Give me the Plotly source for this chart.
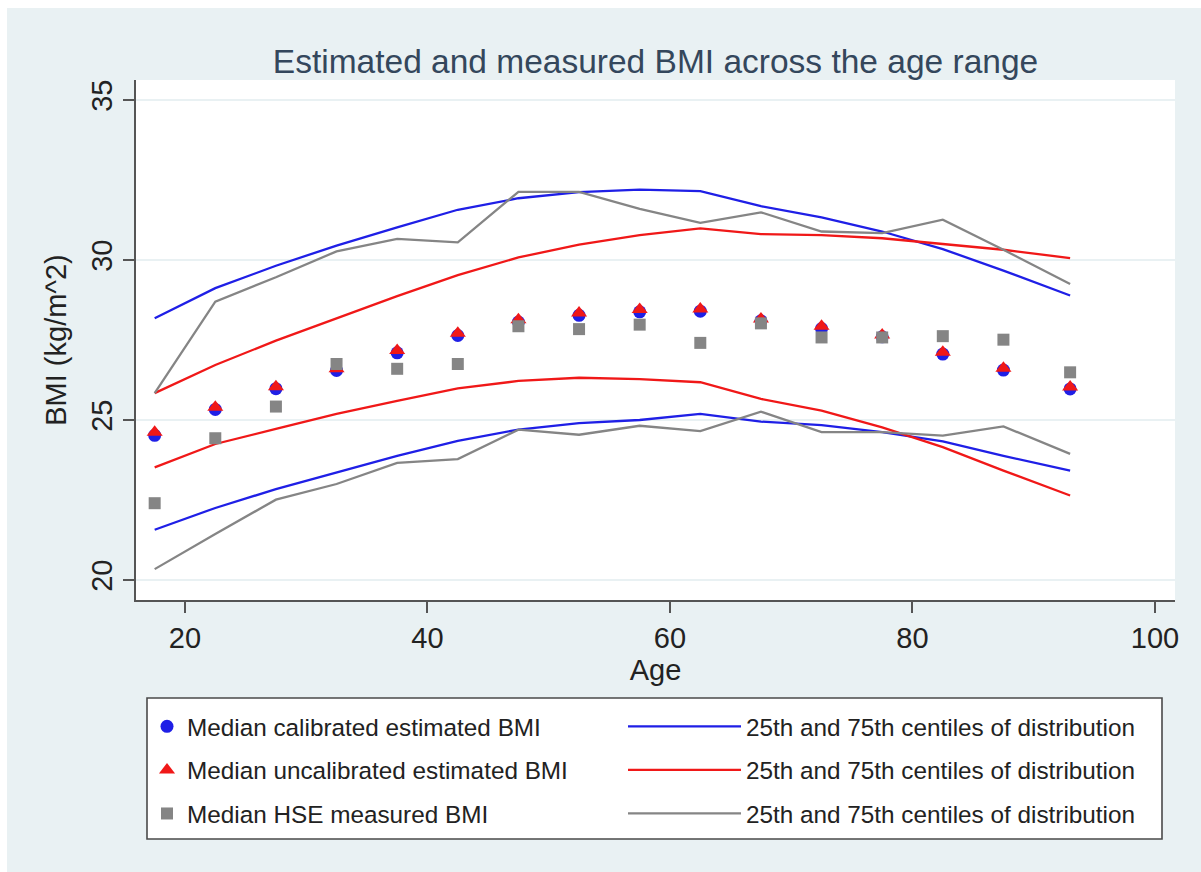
import plotly.graph_objects as go

# ---------------- data ----------------
ages = [17.5, 22.5, 27.5, 32.5, 37.5, 42.5, 47.5, 52.5, 57.5, 62.5, 67.5, 72.5, 77.5, 82.5, 87.5, 93]

cal_median = [24.52, 25.33, 25.98, 26.55, 27.1, 27.64, 28.06, 28.27, 28.38, 28.4, 28.1, 27.86, 27.6, 27.06, 26.56, 25.97]
uncal_median = [24.62, 25.4, 26.04, 26.6, 27.17, 27.71, 28.13, 28.34, 28.45, 28.47, 28.16, 27.93, 27.66, 27.12, 26.62, 26.03]
hse_median = [22.4, 24.43, 25.42, 26.75, 26.6, 26.75, 27.93, 27.84, 27.98, 27.41, 28.02, 27.58, 27.58, 27.62, 27.51, 26.49]

cal_p75 = [28.18, 29.12, 29.82, 30.45, 31.02, 31.57, 31.93, 32.12, 32.2, 32.15, 31.68, 31.33, 30.89, 30.34, 29.67, 28.89]
cal_p25 = [21.57, 22.25, 22.84, 23.37, 23.88, 24.35, 24.7, 24.9, 25.0, 25.19, 24.95, 24.84, 24.62, 24.33, 23.88, 23.42]
uncal_p75 = [25.84, 26.72, 27.48, 28.18, 28.87, 29.53, 30.08, 30.48, 30.78, 30.99, 30.81, 30.78, 30.68, 30.5, 30.32, 30.06]
uncal_p25 = [23.52, 24.25, 24.72, 25.19, 25.6, 25.99, 26.22, 26.32, 26.28, 26.18, 25.66, 25.29, 24.77, 24.15, 23.42, 22.64]
hse_p75 = [25.84, 28.7, 29.46, 30.27, 30.66, 30.55, 32.13, 32.13, 31.6, 31.16, 31.49, 30.89, 30.84, 31.26, 30.32, 29.25]
hse_p25 = [20.34, 21.44, 22.51, 23.0, 23.66, 23.78, 24.7, 24.54, 24.82, 24.65, 25.26, 24.62, 24.62, 24.51, 24.8, 23.94]

x_ticks = [20, 40, 60, 80, 100]
y_ticks = [20, 25, 30, 35]

marker_labels = ["Median calibrated estimated BMI",
                 "Median uncalibrated estimated BMI",
                 "Median HSE measured BMI"]
centile_label = "25th and 75th centiles of distribution"

# ---------------- styling ----------------
BLUE = "#1f1fe6"
RED = "#f01818"
GRAY = "#858585"
BG = "#e9f1f3"
FONT = "Liberation Sans"

W, H = 1201, 872
L, R, T, B = 136, 26, 80, 272
PW, PH = W - L - R, H - T - B


def px_x(p):
    return (p - L) / PW


def px_y(p):
    return (H - B - p) / PH


fig = go.Figure()

line_sets = [
    ("blue", BLUE, cal_p75, cal_p25),
    ("red", RED, uncal_p75, uncal_p25),
    ("gray", GRAY, hse_p75, hse_p25),
]
for grp, col, up, lo in line_sets:
    fig.add_trace(go.Scatter(x=ages, y=up, mode="lines", line=dict(color=col, width=2.3),
                             name=centile_label, legend="legend2", legendgroup=grp,
                             showlegend=True))
    fig.add_trace(go.Scatter(x=ages, y=lo, mode="lines", line=dict(color=col, width=2.3),
                             name=centile_label, legend="legend2", legendgroup=grp,
                             showlegend=False))

fig.add_trace(go.Scatter(x=ages, y=cal_median, mode="markers", name=marker_labels[0],
                         marker=dict(symbol="circle", size=13, color=BLUE),
                         legend="legend", legendgroup="m1"))
fig.add_trace(go.Scatter(x=ages, y=uncal_median, mode="markers", name=marker_labels[1],
                         marker=dict(symbol="triangle-up", size=14, color=RED),
                         legend="legend", legendgroup="m2"))
fig.add_trace(go.Scatter(x=ages, y=hse_median, mode="markers", name=marker_labels[2],
                         marker=dict(symbol="square", size=12, color=GRAY),
                         legend="legend", legendgroup="m3"))

shapes = [
    # white strips at top / left edge of the image
    dict(type="rect", xref="paper", yref="paper", x0=px_x(0), x1=px_x(W), y0=px_y(0), y1=px_y(8),
         fillcolor="white", line=dict(width=0), layer="below"),
    dict(type="rect", xref="paper", yref="paper", x0=px_x(0), x1=px_x(7), y0=px_y(0), y1=px_y(H),
         fillcolor="white", line=dict(width=0), layer="below"),
    # legend box
    dict(type="rect", xref="paper", yref="paper", x0=px_x(147), x1=px_x(1162), y0=px_y(698), y1=px_y(839),
         fillcolor="white", line=dict(color="#4a4a4a", width=1.6), layer="below"),
]

fig.update_layout(
    width=W, height=H,
    margin=dict(l=L, r=R, t=T, b=B, autoexpand=False),
    paper_bgcolor=BG, plot_bgcolor="white",
    font=dict(family=FONT, color="#222222"),
    title=dict(text="Estimated and measured BMI across the age range", x=0.5, xref="paper",
               xanchor="center", y=1 - 61 / H, yanchor="middle",
               font=dict(family=FONT, size=33.5, color="#34475c")),
    xaxis=dict(range=[15.96, 101.65], tickvals=x_ticks, showgrid=False, zeroline=False,
               showline=True, linecolor="#555555", linewidth=1.6,
               ticks="outside", ticklen=11, tickwidth=1.6, tickcolor="#555555",
               tickfont=dict(size=29, color="#222222"),
               title=dict(text="Age", font=dict(size=29, color="#222222"), standoff=0)),
    yaxis=dict(range=[19.375, 35.625], tickvals=y_ticks, showgrid=True, gridcolor=BG, gridwidth=2,
               zeroline=False, showline=True, linecolor="#555555", linewidth=1.6,
               ticks="outside", ticklen=11, tickwidth=1.6, tickcolor="#555555",
               tickangle=-90, tickfont=dict(size=29, color="#222222"),
               title=dict(text="BMI (kg/m^2)", font=dict(size=29, color="#222222"), standoff=10)),
    legend=dict(x=px_x(147), xanchor="left", y=px_y(704), yanchor="top",
                bgcolor="rgba(0,0,0,0)", borderwidth=0, traceorder="grouped", tracegroupgap=9,
                font=dict(size=24.3, color="#222222"), itemclick=False, itemdoubleclick=False),
    legend2=dict(x=px_x(623), xanchor="left", y=px_y(704), yanchor="top",
                 bgcolor="rgba(0,0,0,0)", borderwidth=0, traceorder="grouped", tracegroupgap=9,
                 itemwidth=113,
                 font=dict(size=24.3, color="#222222"), itemclick=False, itemdoubleclick=False),
    shapes=shapes,
)

fig.write_html("out.html")
